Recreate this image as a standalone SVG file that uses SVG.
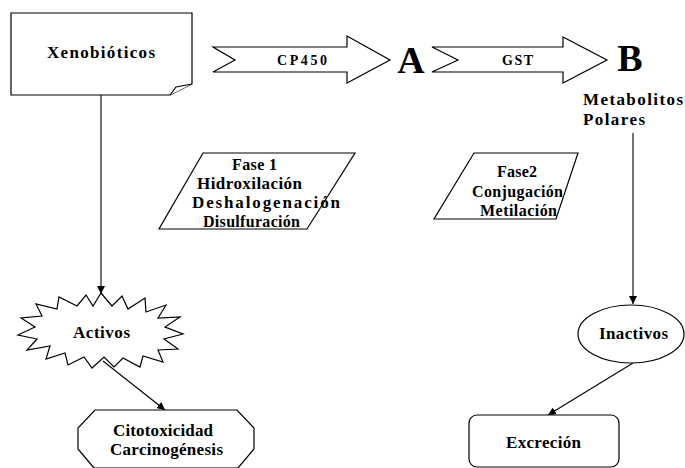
<svg xmlns="http://www.w3.org/2000/svg" width="685" height="468" viewBox="0 0 685 468">
<defs>
<style>
.s{fill:#fff;stroke:#000;stroke-width:1.2}
.t{font-family:"Liberation Serif","Times New Roman",serif;font-weight:bold;font-size:17px;fill:#000}
.m{font-size:16px}
.sm{font-size:14px}
.big{font-family:"Liberation Serif","Times New Roman",serif;font-weight:bold;font-size:38px;fill:#000;text-anchor:middle}
.c{fill:none;stroke:#000;stroke-width:1.1}
</style>
<marker id="ah" viewBox="0 0 10 10" refX="10" refY="5" markerWidth="8" markerHeight="8" markerUnits="userSpaceOnUse" orient="auto">
<path d="M0,0 L10,5 L0,10 Z" fill="#000"/>
</marker>
</defs>
<rect width="685" height="468" fill="#fff"/>
<g id="connectors">
<line class="c" x1="101" y1="95" x2="101" y2="294" marker-end="url(#ah)"/>
<line class="c" x1="633" y1="133" x2="633" y2="304" marker-end="url(#ah)"/>
<line class="c" x1="103" y1="361" x2="165" y2="410" marker-end="url(#ah)"/>
<line class="c" x1="633" y1="363" x2="548" y2="415" marker-end="url(#ah)"/>
</g>
<g id="xenobioticos">
<path class="s" d="M11,13 H192 V84 L170,95 H11 Z"/>
<path class="s" d="M170,95 L176,87 L192,84"/>
<text class="t" x="47" y="58" textLength="108" lengthAdjust="spacing">Xenobióticos</text>
</g>
<g id="cp450">
<polygon class="s" points="213,47 347,47 347,36 390,60 347,83 347,72 213,72 235,60"/>
<text class="t sm" x="277" y="65" textLength="50" lengthAdjust="spacing">CP450</text>
</g>
<g id="A"><text class="big" x="411" y="73">A</text></g>
<g id="gst">
<polygon class="s" points="432,47 563,47 563,37 607,60 563,83 563,72 432,72 458,60"/>
<text class="t sm" x="502" y="65" textLength="31" lengthAdjust="spacing">GST</text>
</g>
<g id="B">
<text class="big" x="630" y="71">B</text>
<text class="t" x="583" y="105" textLength="100" lengthAdjust="spacing">Metabolitos</text>
<text class="t" x="583" y="125" textLength="62" lengthAdjust="spacing">Polares</text>
</g>
<g id="fase1">
<polygon class="s" points="203,153 355,153 307,229 159,229"/>
<text class="t m" x="232" y="170" textLength="45" lengthAdjust="spacing">Fase 1</text>
<text class="t" x="197" y="189" textLength="105" lengthAdjust="spacing">Hidroxilación</text>
<text class="t" x="192" y="208" textLength="148" lengthAdjust="spacing">Deshalogenación</text>
<text class="t m" x="203" y="227" textLength="97" lengthAdjust="spacing">Disulfuración</text>
</g>
<g id="fase2">
<polygon class="s" points="474,153 578,153 556,219 434,219"/>
<text class="t m" x="497" y="177" textLength="40" lengthAdjust="spacing">Fase2</text>
<text class="t m" x="472" y="197" textLength="91" lengthAdjust="spacing">Conjugación</text>
<text class="t m" x="480" y="216" textLength="77" lengthAdjust="spacing">Metilación</text>
</g>
<g id="activos">
<polygon class="s" points="101,293 112,306 122,296 128,309 145,298 146,312 166,305 158,318 180,317 165,327 183,334 164,339 178,349 158,350 163,362 143,356 140,367 123,358 114,367 104,357 92,368 84,357 68,365 65,353 46,359 50,346 27,350 37,339 18,335 35,327 21,318 42,316 36,304 57,309 59,297 77,306 86,295 93,306"/>
<text class="t" x="73" y="338" textLength="57" lengthAdjust="spacing">Activos</text>
</g>
<g id="citotoxicidad">
<polygon class="s" points="95,410 237,410 254,428 254,449 238,468 94,468 78,449 78,428"/>
<text class="t" x="113" y="436" textLength="100" lengthAdjust="spacing">Citotoxicidad</text>
<text class="t" x="110" y="455" textLength="113" lengthAdjust="spacing">Carcinogénesis</text>
</g>
<g id="inactivos">
<ellipse class="s" cx="631" cy="334" rx="53" ry="29"/>
<text class="t" x="599" y="339" textLength="69" lengthAdjust="spacing">Inactivos</text>
</g>
<g id="excrecion">
<rect class="s" x="469" y="415" width="150" height="52" rx="8"/>
<text class="t" x="506" y="448" textLength="75" lengthAdjust="spacing">Excreción</text>
</g>
</svg>
